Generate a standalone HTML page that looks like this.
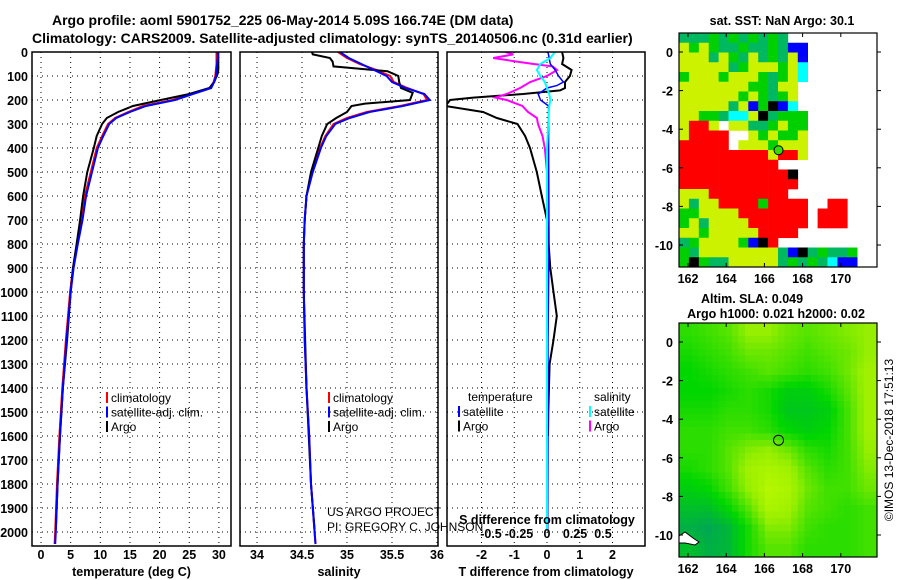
<!DOCTYPE html>
<html><head><meta charset="utf-8"><style>
body{margin:0;background:#fff}
svg{display:block;font-family:"Liberation Sans",Arial,sans-serif}
.b{font-weight:bold}
</style></head><body>
<svg id="fig" width="900" height="580" viewBox="0 0 900 580">
<text x="52" y="25" font-size="14" class="b">Argo profile: aoml 5901752_225 06-May-2014 5.09S 166.74E (DM data)</text>
<text x="32" y="43" font-size="14" class="b">Climatology: CARS2009. Satellite-adjusted climatology: synTS_20140506.nc (0.31d earlier)</text>
<defs>
<clipPath id="c1"><rect x="32" y="52" width="199" height="494"/></clipPath>
<clipPath id="c2"><rect x="240" y="52" width="198" height="494"/></clipPath>
<clipPath id="c3"><rect x="447" y="52" width="198" height="494"/></clipPath>
</defs>
<g id="grid"></g>
<g id="series"></g>
<g id="axes"></g>
<g id="maps"></g>
<text x="327" y="516" font-size="12">US ARGO PROJECT</text>
<text x="327" y="531" font-size="12">PI: GREGORY C. JOHNSON</text>
<text x="547" y="524" font-size="12.5" class="b" text-anchor="middle">S difference from climatology</text>
<text x="782" y="25" font-size="12.5" class="b" text-anchor="middle">sat. SST: NaN Argo: 30.1</text>
<text x="752" y="303" font-size="12.5" class="b" text-anchor="middle">Altim. SLA: 0.049</text>
<text x="776" y="318" font-size="12.5" class="b" text-anchor="middle">Argo h1000: 0.021 h2000: 0.02</text>
<text x="0" y="0" font-size="12" transform="translate(893,440) rotate(-90)" text-anchor="middle">©IMOS 13-Dec-2018 17:51:13</text>
</svg>
<script>
const depths=[0,25,50,75,100,125,150,175,200,225,250,275,300,350,400,500,600,700,800,900,1000,1200,1400,1600,1800,2000,2050];
const climTemp=[29.6,29.6,29.6,29.5,29.4,29.1,28.5,25.3,22.2,17.2,14.7,12.5,11.3,10.3,9.4,8.4,7.4,6.9,6.1,5.4,4.9,4.2,3.6,3.1,2.7,2.4,2.3];
const satTemp=[29.8,29.8,29.7,29.6,29.5,29.2,28.7,25.6,22.6,17.7,15.0,12.7,11.5,10.5,9.6,8.6,7.6,7.0,6.2,5.5,5.0,4.3,3.7,3.2,2.8,2.5,2.4];
const argoDepths=[0,25,50,75,90,125,150,175,200,225,250,275,300,350,400,500,600,700,800,900,1000,1200,1400,1600,1800,1990];
const argoTemp=[29.9,29.9,29.9,29.9,29.8,29.2,28.4,25.0,20.2,15.5,13.0,11.1,10.3,9.4,8.9,7.8,7.1,6.6,6.0,5.4,5.0,4.4,3.7,3.2,2.8,2.5];
const climSal=[34.9,35.0,35.14,35.33,35.48,35.52,35.67,35.85,35.89,35.59,35.22,35.0,34.85,34.76,34.7,34.61,34.55,34.53,34.52,34.52,34.52,34.53,34.55,34.58,34.6,34.64,34.65];
const satSal=[34.92,35.02,35.16,35.3,35.44,35.5,35.65,35.86,35.92,35.62,35.25,35.03,34.87,34.77,34.71,34.62,34.55,34.53,34.52,34.52,34.52,34.53,34.55,34.58,34.6,34.64,34.65];
const argoSalDepths=[0,10,25,40,60,80,100,125,150,170,200,215,225,250,275,300,350,400,500,600,700,800,1000,1400,1800,1990];
const argoSal=[34.61,34.62,34.81,34.84,34.85,35.45,35.57,35.58,35.6,35.73,35.7,35.2,35.05,35.0,34.88,34.78,34.72,34.68,34.6,34.55,34.53,34.52,34.52,34.55,34.6,34.64];
const diffDepths=[0,25,50,75,100,125,150,160,175,190,200,225,250,275,300,350,400,500,600,700,800,900,1000,1100,1200,1300,1500,1600];
const tDiffArgo=[0.46,0.5,0.46,0.75,0.7,0.55,0.55,0.4,-0.73,-2.25,-2.96,-3.1,-1.95,-1.53,-0.9,-0.67,-0.52,-0.31,-0.16,0.0,0.05,0.1,0.2,0.3,0.2,0.08,0.04,0.03];
const tDiffDepths=[0,50,75,100,125,140,150,175,200,215,225,400,800,1200,1600,1990];
const tDiffSat=[0.03,0.1,0.25,0.35,0.5,0.3,0.0,-0.27,-0.2,-0.05,0.05,0.05,0.06,0.03,0.03,0.02];
const sDiffDepths=[0,10,25,40,50,60,75,100,125,150,175,190,200,225,250,275,300,350,400,500,1000,1500,1990];
const sDiffArgo=[-0.37,-0.3,-0.48,-0.27,-0.12,0.05,0.09,0.0,-0.15,-0.24,-0.36,-0.46,-0.36,-0.22,-0.17,-0.09,-0.08,-0.04,-0.02,0.0,0.0,0.0,0.0];
const sDiffSatDepths=[0,25,50,75,100,125,150,175,200,225,400,1000,1990];
const sDiffSat=[0.07,0.03,-0.06,-0.09,-0.06,-0.02,0.0,0.02,0.03,0.02,0.0,0.0,0.0];
const depthTicks=[0,100,200,300,400,500,600,700,800,900,1000,1100,1200,1300,1400,1500,1600,1700,1800,1900,2000];
const tempTicks=[0,5,10,15,20,25,30];
const salTicks=[34,34.5,35,35.5,36];
const tDiffTicks=[-2,-1,0,1,2];
const sDiffTicks=[-0.5,-0.25,0,0.25,0.5];
const lonTicks=[162,164,166,168,170];
const latTicks=[0,-2,-4,-6,-8,-10];
const sstRows=["DDDGDGDGDGDWWWWWWWWW","YGYGDDGDDGDBBWWWWWWW","YYYDYGDYDGDYBWWWWWWW","YYYYYDGYYYGYCWWWWWWW","GYYYGYYYGDGYCWWWWWWW","YYYYYYYGGDYYWWWWWWWW","YYYYYYGYGDGYWWWWWWWW","YYYYYDYBGKBCWWWWWWWW","YYGGDCCYKDGGGWWWWWWW","YRRYWYYDDGYGGWWWWWWW","YRRRRWWYGYGGYWWWWWWW","RRRRRWYYYGYYYWWWWWWW","RRRRRRRRRYRRYWWWWWWW","RRRRRRRRRRWWWWWWWWWW","RRRRRRRRRRRKWWWWWWWW","RRRRRRRRRRRRWWWWWWWW","YYYRRRRRRRRWWWWWWWWW","YDYYRRRRGRRRRWWRRWWW","GGYYYYRRRRRRRWRRRWWW","GYDYYYYRRRRRRWRRRWWW","YYGYYYYYRRRRWWWWWWWW","DGYYYYGBKRWWWWWWWWWW","GDYYYYYYYYDBKDGDDGWW","GKGDDYYYYYDGDGDCBBWW"];
const slaRows=[[.45,.5,.55,.7,.7,.6,.55,.6,.65,.7],[.4,.45,.5,.6,.6,.55,.5,.55,.6,.7],[.35,.4,.45,.5,.55,.5,.45,.5,.6,.75],[.35,.35,.4,.45,.4,.3,.3,.4,.55,.75],[.4,.4,.45,.45,.4,.25,.25,.3,.5,.75],[.45,.45,.5,.5,.45,.35,.3,.35,.5,.75],[.45,.45,.55,.65,.7,.6,.45,.4,.5,.7],[.4,.45,.55,.75,.8,.75,.55,.45,.5,.65],[.3,.35,.5,.7,.85,.8,.6,.5,.5,.6],[.2,.2,.35,.55,.8,.75,.55,.5,.45,.5],[.1,.05,.15,.4,.65,.65,.5,.45,.45,.5],[.2,.1,.15,.4,.55,.55,.45,.45,.45,.5]];
const argoLon=166.74, argoLat=-5.09;

const NS="http://www.w3.org/2000/svg";
function mk(tag,attrs,parent){const e=document.createElementNS(NS,tag);for(const k in attrs)e.setAttribute(k,attrs[k]);parent.appendChild(e);return e;}
const yD=d=>52+0.24*d;
const tx=t=>41+5.93*t, sx=s=>257+90*(s-34), dx=v=>547+32.75*v, dsx=v=>547+112*v;
const G=document.getElementById('grid'),S=document.getElementById('series'),A=document.getElementById('axes'),M=document.getElementById('maps');
const panels=[{x:32,w:199,f:tx,ticks:tempTicks,lab:'temperature (deg C)',name:'temperature'},{x:240,w:198,f:sx,ticks:salTicks,lab:'salinity',name:'salinity'},{x:447,w:198,f:dx,ticks:tDiffTicks,lab:'T difference from climatology',name:'difference'}];
panels.forEach(p=>{
  depthTicks.forEach(d=>{const l=mk('line',{x1:p.x,x2:p.x+p.w,y1:yD(d),y2:yD(d),stroke:'#000','stroke-dasharray':'1 4','stroke-width':1},G);
    });
  p.ticks.forEach(t=>{const x=p.f(t);const l=mk('line',{x1:x,x2:x,y1:52,y2:546,stroke:'#000','stroke-dasharray':'1 4','stroke-width':1},G);
    
    const tt=mk('text',{x:x,y:559,'font-size':12.5,'font-weight':'bold','text-anchor':'middle'},A);tt.textContent=t;
    });
  const r=mk('rect',{x:p.x,y:52,width:p.w,height:494,fill:'none',stroke:'#000','stroke-width':1.5},A);
  
  const xt=mk('text',{x:p.x+p.w/2,y:576,'font-size':12.5,'font-weight':'bold','text-anchor':'middle'},A);xt.textContent=p.lab;
  
});
depthTicks.forEach(d=>{const t=mk('text',{x:28,y:yD(d)+5,'font-size':12.5,'font-weight':'bold','text-anchor':'end'},A);t.textContent=d;
  });
sDiffTicks.forEach(v=>{const t=mk('text',{x:dsx(v),y:538,'font-size':12.5,'font-weight':'bold','text-anchor':'middle'},A);t.textContent=v;
  });
function line(ds,vs,f,color,clip,name,w){const pts=ds.map((d,i)=>f(vs[i]).toFixed(1)+','+yD(d).toFixed(1)).join(' ');
  const e=mk('polyline',{points:pts,fill:'none',stroke:color,'stroke-width':w||2,'clip-path':'url(#'+clip+')'},S);
  }
line(depths,climTemp,tx,'#f00','c1','temp-climatology-line');
line(argoDepths,argoTemp,tx,'#000','c1','temp-argo-line');
line(depths,satTemp,tx,'#00f','c1','temp-satellite-line');
line(depths,climSal,sx,'#f00','c2','sal-climatology-line');
line(argoSalDepths,argoSal,sx,'#000','c2','sal-argo-line');
line(depths,satSal,sx,'#00f','c2','sal-satellite-line');
line(diffDepths,tDiffArgo,dx,'#000','c3','t-diff-argo-line');
line(sDiffDepths,sDiffArgo,dsx,'#f0f','c3','s-diff-argo-line');
line(tDiffDepths,tDiffSat,dx,'#00f','c3','t-diff-satellite-line',1.5);
line(sDiffSatDepths,sDiffSat,dsx,'#0ff','c3','s-diff-satellite-line');
function legend(x,y,items){items.forEach((it,i)=>{const yy=y+i*14.5;
  const m=mk('line',{x1:x,x2:x,y1:yy-10,y2:yy+1,stroke:it[1],'stroke-width':2},A);
  if(it[0]){const t=mk('text',{x:x+4,y:yy,'font-size':12},A);t.textContent=it[0];}});}
legend(107,402,[['climatology','#f00'],['satellite-adj. clim.','#00f'],['Argo','#000']]);
legend(329,402,[['climatology','#f00'],['satellite-adj. clim.','#00f'],['Argo','#000']]);
legend(459,416,[['satellite','#00f'],['Argo','#000']]);
legend(590,416,[['satellite','#0ff'],['Argo','#f0f']]);
{const t=mk('text',{x:468,y:401,'font-size':12},A);t.textContent='temperature';
 const u=mk('text',{x:594,y:401,'font-size':12},A);u.textContent='salinity';}
const mx0=679,mw=198,mh=234;
const lonX=l=>688+(l-162)*19.1;
const latY=(l,top)=>top+19+(-l)*19.3;
const sstCol={D:'#00b860',G:'#00d000',Y:'#ccf200',R:'#f00',W:'#fff',B:'#00f',C:'#0ff',K:'#000'};
function mapFrame(top,name){
  const r=mk('rect',{x:mx0,y:top,width:mw,height:mh,fill:'none',stroke:'#000','stroke-width':1.2},M);
  
  lonTicks.forEach(l=>{const x=lonX(l);mk('line',{x1:x,x2:x,y1:top,y2:top+4,stroke:'#000'},M);mk('line',{x1:x,x2:x,y1:top+mh,y2:top+mh-4,stroke:'#000'},M);
    const t=mk('text',{x:x,y:top+mh+16,'font-size':12.5,'font-weight':'bold','text-anchor':'middle'},M);t.textContent=l;
    });
  latTicks.forEach(l=>{const y=latY(l,top);mk('line',{x1:mx0,x2:mx0+4,y1:y,y2:y,stroke:'#000'},M);mk('line',{x1:mx0+mw,x2:mx0+mw+4,y1:y,y2:y,stroke:'#000'},M);
    const t=mk('text',{x:673,y:y+5,'font-size':12.5,'font-weight':'bold','text-anchor':'end'},M);t.textContent=l;
    });
}
{const top=33,cw=mw/20,ch=mh/24;
 sstRows.forEach((row,r)=>{[...row].forEach((c,k)=>{if(c==='W')return;
  const e=mk('rect',{x:mx0+k*cw,y:top+r*ch,width:cw+0.3,height:ch+0.3,fill:sstCol[c]},M);
  });});
 const d=mk('circle',{cx:lonX(argoLon),cy:latY(argoLat,top),r:4.5,fill:'#33dd00',stroke:'#000','stroke-width':1},M);
 
 mapFrame(top,'sst-map');}
function lerp(a,b,t){return a.map((v,i)=>Math.round(v+(b[i]-v)*t));}
function slaColor(v){const stops=[[0,[0,160,96]],[0.35,[0,214,0]],[0.7,[150,238,0]],[1,[210,255,0]]];
  for(let i=1;i<stops.length;i++){if(v<=stops[i][0]){const t=(v-stops[i-1][0])/(stops[i][0]-stops[i-1][0]);const c=lerp(stops[i-1][1],stops[i][1],t);return `rgb(${c[0]},${c[1]},${c[2]})`;}}
  return 'rgb(210,255,0)';}
{const top=323,sub=3,nr=slaRows.length,nc=slaRows[0].length,cw=mw/(nc*sub),ch=mh/(nr*sub);
 for(let i=0;i<nr*sub;i++)for(let j=0;j<nc*sub;j++){
  const fy=Math.min(Math.max((i+0.5)/sub-0.5,0),nr-1),fx=Math.min(Math.max((j+0.5)/sub-0.5,0),nc-1);
  const y0=Math.floor(fy),x0=Math.floor(fx),y1=Math.min(y0+1,nr-1),x1=Math.min(x0+1,nc-1),ty=fy-y0,tx2=fx-x0;
  const v=(slaRows[y0][x0]*(1-tx2)+slaRows[y0][x1]*tx2)*(1-ty)+(slaRows[y1][x0]*(1-tx2)+slaRows[y1][x1]*tx2)*ty;
  const e=mk('rect',{x:mx0+j*cw,y:top+i*ch,width:cw+0.4,height:ch+0.4,fill:slaColor(v)},M);
  }
 const w=mk('path',{d:`M${mx0} ${top+213} l6 -4 l8 6 l6 4 l-4 3 l-10 -2 l-6 0z`,fill:'#fff',stroke:'#000','stroke-width':1},M);
 
 const d=mk('circle',{cx:lonX(argoLon),cy:latY(argoLat,top),r:5,fill:'none',stroke:'#000','stroke-width':1},M);
 
 mapFrame(top,'sla-map');}
</script>
</body></html>
